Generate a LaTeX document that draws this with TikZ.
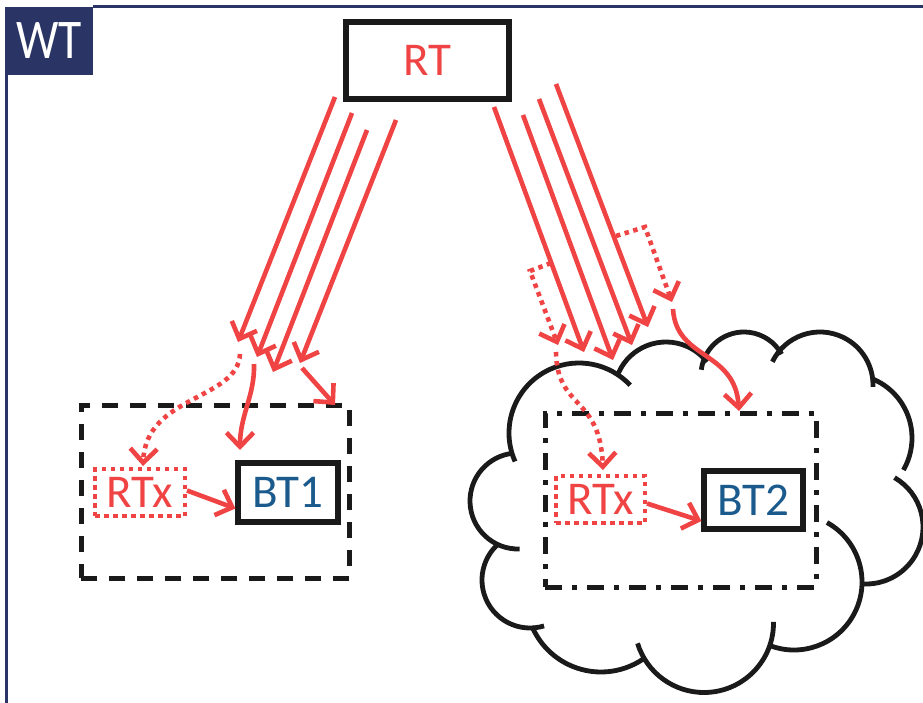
\documentclass[tikz,border=0pt]{standalone}
\usepackage{fontspec}
\setmainfont{Carlito}
\usetikzlibrary{arrows.meta}
\definecolor{myred}{HTML}{F04444}
\definecolor{myblue}{HTML}{1B5A8C}
\definecolor{navy}{HTML}{2A3565}
\definecolor{ink}{HTML}{1A1A1A}
\newcommand\cloudarc[5]{\draw[cloudline] (#1,#2) ++(#3:#5) arc[start angle=#3, end angle=#4, radius=#5];}
\begin{document}
\begin{tikzpicture}[x=1pt,y=-1pt,
  cloudline/.style={draw=ink, line width=4.8pt},
  redarrow/.style={draw=myred, line width=4.6pt, -{Straight Barb[length=14pt,width=27pt]}},
  reddot/.style={redarrow, dash pattern=on 4.5pt off 4.5pt},
  bigtext/.style={font=\fontsize{47}{50}\selectfont},
  solidbox/.style={draw=ink, line width=5.2pt, inner sep=0pt, bigtext},
  dotbox/.style={draw=myred, line width=4pt, dash pattern=on 4.5pt off 4.5pt, inner sep=0pt, bigtext, text=myred},
  zonedash/.style={draw=ink, line width=5pt, dash pattern=on 16pt off 12pt},
  zonedashdot/.style={draw=ink, line width=5pt, dash pattern=on 17pt off 10pt on 5pt off 10pt}]
\useasboundingbox (0,0) rectangle (923,703);
\clip (0,0) rectangle (923,703);
\fill[white] (0,0) rectangle (923,703);

% frame
\node[fill=navy, minimum width=88pt, minimum height=68pt, inner sep=0pt, text=white,
      font=\fontsize{56}{60}\selectfont] (WT) at (49,41) {\scalebox{0.85}[1]{WT}};
\draw[navy, line width=2.8pt] (WT.north east) -- ++(835,0) coordinate (frameR);
\draw[navy, line width=2.8pt] ([xshift=1.4pt]WT.south west) -- ++(0,640) coordinate (frameB);

% cloud
\cloudarc{579}{433}{156}{317}{70}
\cloudarc{518}{501}{88}{264}{48}
\cloudarc{530}{580}{73}{227}{48}
\cloudarc{601}{597}{56}{157}{75}
\cloudarc{704}{623}{-1}{163}{69.5}
\cloudarc{794}{582}{-61}{111}{68}
\cloudarc{866}{527}{-60}{94}{57}
\cloudarc{848}{438}{-66}{30}{64}
\cloudarc{820}{385}{206}{362}{53}
\cloudarc{744}{375}{187}{331}{43}
\cloudarc{666}{394}{204}{322}{52}

% zones
\node[zonedash, minimum width=268pt, minimum height=173pt] (zone1) at (215,491.5) {};
\node[zonedashdot, minimum width=271pt, minimum height=174pt] (zone2) at (680.5,500) {};

% boxes
\node[solidbox, minimum width=163pt, minimum height=77pt, text=myred] (RT) at (427.5,60.5) {RT};
\node[solidbox, minimum width=100pt, minimum height=59pt, text=myblue] (BT1) at (288,492.5) {BT1};
\node[solidbox, minimum width=99pt, minimum height=58pt, text=myblue] (BT2) at (753.5,500) {BT2};
\node[dotbox, minimum width=90pt, minimum height=47pt] (RTx1) at (140,492.5) {RTx};
\node[dotbox, minimum width=89pt, minimum height=47pt] (RTx2) at (600.5,499.5) {RTx};

% coordinates
\coordinate (a1s) at (335,97);  \coordinate (a1e) at (238,342);
\coordinate (a2s) at (352,113); \coordinate (a2e) at (257,357);
\coordinate (a3s) at (367,130); \coordinate (a3e) at (273,372);
\coordinate (a4s) at (396,120); \coordinate (a4e) at (300,363);
\coordinate (b1s) at (494,107); \coordinate (b1e) at (584,352);
\coordinate (b2s) at (523,115); \coordinate (b2e) at (613,360);
\coordinate (b3s) at (539,99);  \coordinate (b3e) at (632,345);
\coordinate (b4s) at (556,84);  \coordinate (b4e) at (648,327);

\coordinate (c1s) at (240,354); \coordinate (c1e) at (143,466);
\coordinate (c2s) at (254,364); \coordinate (c2e) at (240,450);
\coordinate (c3s) at (302,368); \coordinate (c3e) at (335,405);

\coordinate (d1s) at (551,263); \coordinate (d1k) at (530,271); \coordinate (d1e) at (558,345);
\coordinate (d1t) at (556,352); \coordinate (d1f) at (603,470);
\coordinate (d2s) at (616,236); \coordinate (d2k) at (645,227); \coordinate (d2e) at (672,302);
\coordinate (d2t) at (673,309); \coordinate (d2f) at (739,411);

% main arrows
\foreach \i in {a1,a2,a3,a4,b1,b2,b3,b4}
  \draw[redarrow] (\i s) -- (\i e);

% left follow-ups
\draw[reddot] (c1s) .. controls (238,400) and (146,395) .. (c1e);
\draw[redarrow] (c2s) .. controls (255,395) and (240,415) .. (c2e);
\draw[redarrow] (c3s) -- (c3e);

% right follow-ups
\draw[reddot] (d1s) -- (d1k) -- (d1e);
\draw[reddot] (d1t) .. controls (557,410) and (600,395) .. (d1f);
\draw[reddot] (d2s) -- (d2k) -- (d2e);
\draw[redarrow] (d2t) .. controls (676,360) and (735,350) .. (d2f);

% inner arrows
\draw[redarrow] ([yshift=2pt]RTx1.east) -- ([yshift=-16pt]BT1.west);
\draw[redarrow] ([yshift=-4pt]RTx2.east) -- ([yshift=-21pt]BT2.west);
\end{tikzpicture}
\end{document}
